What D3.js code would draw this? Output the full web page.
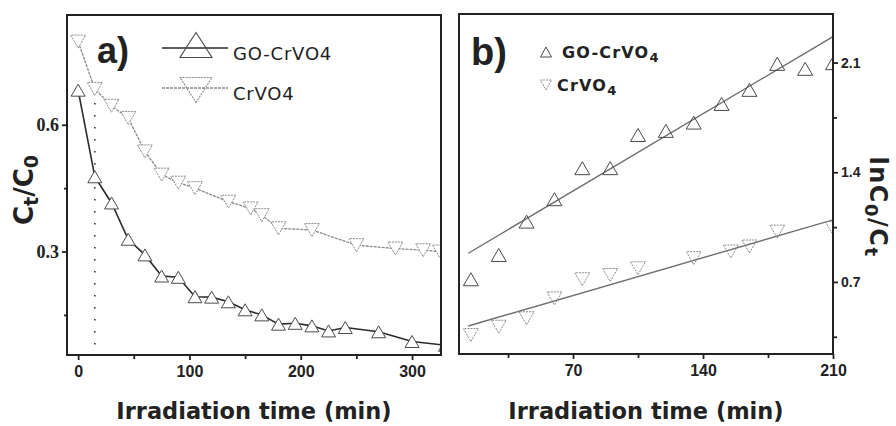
<!DOCTYPE html>
<html>
<head>
<meta charset="utf-8">
<script src="https://cdn.jsdelivr.net/npm/d3@7"></script>
<style>
  body { margin: 0; background: #fff; }
  text { fill: #222; }
</style>
</head>
<body>
<div id="chart"></div>
<script>
// panel a) : Ct/C0 vs time
const timeGO_a = [0, 15, 30, 45, 60, 75, 90, 105, 120, 135, 150, 165, 180, 195, 210, 225, 240, 270, 300, 330];
const ratioGO_a = [0.682, 0.477, 0.415, 0.329, 0.292, 0.242, 0.239, 0.193, 0.192, 0.181, 0.162, 0.150, 0.128, 0.130, 0.124, 0.112, 0.120, 0.110, 0.087, 0.078];
const timeCr_a = [0, 15, 30, 45, 60, 75, 90, 105, 135, 155, 165, 180, 210, 250, 285, 310, 325];
const ratioCr_a = [0.797, 0.685, 0.645, 0.616, 0.537, 0.482, 0.463, 0.450, 0.418, 0.402, 0.386, 0.355, 0.351, 0.315, 0.307, 0.303, 0.300];
const dropLine_a = { t: 15, from: 0.68, to: 0.08 };

// panel b) : ln(C0/Ct) vs time
const timeGO_b = [15, 30, 45, 60, 75, 90, 105, 120, 135, 150, 165, 180, 195, 210];
const lnGO_b = [0.717, 0.872, 1.085, 1.228, 1.426, 1.426, 1.638, 1.664, 1.717, 1.836, 1.926, 2.092, 2.060, 2.096];
const timeCr_b = [15, 30, 45, 60, 75, 90, 105, 135, 155, 165, 180, 210];
const lnCr_b = [0.361, 0.414, 0.468, 0.595, 0.717, 0.744, 0.787, 0.852, 0.894, 0.926, 1.021, 1.043];
const fitGO_b = [[13.6, 0.883], [210, 2.266]];
const fitCr_b = [[13.6, 0.419], [210, 1.096]];

const ticksX_a = [0, 100, 200, 300], minorX_a = [50, 150, 250];
const ticksY_a = [0.3, 0.6], minorY_a = [0.15, 0.45];
const ticksX_b = [70, 140, 210], minorX_b = [35, 105, 175];
const ticksY_b = [0.7, 1.4, 2.1], minorY_b = [0.35, 1.05, 1.75];

const width = 896, height = 426;
const svg = d3.select("#chart").append("svg")
    .attr("width", width)
    .attr("height", height)
    .style("font-family", "'DejaVu Sans', sans-serif");

const pa = { l: 67, r: 441, t: 15, b: 355 };
const pb = { l: 459, r: 833, t: 14, b: 354 };

const xa = d3.scaleLinear().domain([-10, 326]).range([pa.l, pa.r]);
const ya = d3.scaleLinear().domain([0.055, 0.86]).range([pa.b, pa.t]);
const xb = d3.scaleLinear().domain([8.6, 210]).range([pb.l, pb.r]);
const yb = d3.scaleLinear().domain([0.24, 2.41]).range([pb.b, pb.t]);

function tri(w, h, up) {
    const s = up ? 1 : -1;
    return `M0,${-s * h / 2}L${w / 2},${s * h / 2}L${-w / 2},${s * h / 2}Z`;
}

const defs = svg.append("defs");
defs.append("clipPath").attr("id", "clipA").append("rect")
    .attr("x", pa.l).attr("y", pa.t).attr("width", pa.r - pa.l).attr("height", pa.b - pa.t);
defs.append("clipPath").attr("id", "clipB").append("rect")
    .attr("x", pb.l).attr("y", pb.t).attr("width", pb.r - pb.l).attr("height", pb.b - pb.t);

// ---------- panel a ----------
const gA = svg.append("g").attr("clip-path", "url(#clipA)");

gA.append("line")
    .attr("x1", xa(dropLine_a.t)).attr("x2", xa(dropLine_a.t))
    .attr("y1", ya(dropLine_a.from)).attr("y2", ya(dropLine_a.to))
    .attr("stroke", "#333").attr("stroke-width", 1.6)
    .attr("stroke-dasharray", "1.5,10.5");

const lineA = (xs, ys) => d3.line().x((d, i) => xa(xs[i])).y((d, i) => ya(ys[i]))(xs);

gA.append("path").attr("d", lineA(timeCr_a, ratioCr_a))
    .attr("fill", "none").attr("stroke", "#8a8a8a").attr("stroke-width", 1.3)
    .attr("stroke-dasharray", "3,1");
gA.append("path").attr("d", lineA(timeGO_a, ratioGO_a))
    .attr("fill", "none").attr("stroke", "#2a2a2a").attr("stroke-width", 1.6);

gA.selectAll(".mCrA").data(timeCr_a).enter().append("path")
    .attr("transform", (d, i) => `translate(${xa(d)},${ya(ratioCr_a[i])})`)
    .attr("d", tri(15, 13, false))
    .attr("fill", "#fff").attr("stroke", "#8a8a8a").attr("stroke-width", 1)
    .attr("stroke-dasharray", "2,1");
gA.selectAll(".mGOA").data(timeGO_a).enter().append("path")
    .attr("transform", (d, i) => `translate(${xa(d)},${ya(ratioGO_a[i])})`)
    .attr("d", tri(14, 12, true))
    .attr("fill", "#fff").attr("stroke", "#4a4a4a").attr("stroke-width", 1);

// frame a
svg.append("rect").attr("x", pa.l).attr("y", pa.t)
    .attr("width", pa.r - pa.l).attr("height", pa.b - pa.t)
    .attr("fill", "none").attr("stroke", "#222").attr("stroke-width", 2);

// axes a
const axXa = svg.append("g").attr("transform", `translate(0,${pa.b})`)
    .call(d3.axisBottom(xa).tickValues(ticksX_a).tickSize(5).tickPadding(6).tickFormat(d3.format("d")));
svg.append("g").attr("transform", `translate(0,${pa.b})`)
    .call(d3.axisBottom(xa).tickValues(minorX_a).tickSize(4).tickFormat(""));
const axYa = svg.append("g").attr("transform", `translate(${pa.l},0)`)
    .call(d3.axisLeft(ya).tickValues(ticksY_a).tickSize(5).tickPadding(3).tickFormat(d3.format(".1f")));
svg.append("g").attr("transform", `translate(${pa.l},0)`)
    .call(d3.axisLeft(ya).tickValues(minorY_a).tickSize(3).tickFormat(""));

// ---------- panel b ----------
const gB = svg.append("g").attr("clip-path", "url(#clipB)");
const lineB = d3.line().x(d => xb(d[0])).y(d => yb(d[1]));
[fitGO_b, fitCr_b].forEach(f => {
    gB.append("path").attr("d", lineB(f))
        .attr("fill", "none").attr("stroke", "#6e6e6e").attr("stroke-width", 1.4);
});
gB.selectAll(".mGOB").data(timeGO_b).enter().append("path")
    .attr("transform", (d, i) => `translate(${xb(d)},${yb(lnGO_b[i])})`)
    .attr("d", tri(15, 13, true))
    .attr("fill", "none").attr("stroke", "#4a4a4a").attr("stroke-width", 1);
gB.selectAll(".mCrB").data(timeCr_b).enter().append("path")
    .attr("transform", (d, i) => `translate(${xb(d)},${yb(lnCr_b[i])})`)
    .attr("d", tri(15, 13, false))
    .attr("fill", "none").attr("stroke", "#8a8a8a").attr("stroke-width", 1)
    .attr("stroke-dasharray", "2,1");

svg.append("rect").attr("x", pb.l).attr("y", pb.t)
    .attr("width", pb.r - pb.l).attr("height", pb.b - pb.t)
    .attr("fill", "none").attr("stroke", "#222").attr("stroke-width", 2);

const axXb = svg.append("g").attr("transform", `translate(0,${pb.b})`)
    .call(d3.axisBottom(xb).tickValues(ticksX_b).tickSize(5).tickPadding(6).tickFormat(d3.format("d")));
svg.append("g").attr("transform", `translate(0,${pb.b})`)
    .call(d3.axisBottom(xb).tickValues(minorX_b).tickSize(4).tickFormat(""));
const axYb = svg.append("g").attr("transform", `translate(${pb.r},0)`)
    .call(d3.axisRight(yb).tickValues(ticksY_b).tickSize(5).tickPadding(3).tickFormat(d3.format(".1f")));
svg.append("g").attr("transform", `translate(${pb.r},0)`)
    .call(d3.axisRight(yb).tickValues(minorY_b).tickSize(4).tickFormat(""));

// axis styling
svg.selectAll(".domain").remove();
svg.selectAll(".tick line").attr("stroke", "#222").attr("stroke-width", 1.8);
axXa.selectAll("text").attr("font-size", 16).attr("font-weight", "bold").attr("fill", "#222");
axXb.selectAll("text").attr("font-size", 16).attr("font-weight", "bold").attr("fill", "#222");
axYa.selectAll("text").attr("font-size", 15).attr("font-weight", "bold").attr("fill", "#222")
    .attr("font-family", "'Liberation Serif', serif").attr("font-size", 18);
axYb.selectAll("text").attr("font-size", 14).attr("fill", "#222")
    .attr("font-family", "'Liberation Sans', Arial, sans-serif").attr("font-weight", "bold");

// titles
[(pa.l + pa.r) / 2, (pb.l + pb.r) / 2].forEach(cx => {
    svg.append("text").attr("x", cx).attr("y", 419)
        .attr("text-anchor", "middle").attr("font-size", 22.5).attr("font-weight", "bold")
        .text("Irradiation time (min)");
});

const yTa = svg.append("text")
    .attr("transform", "translate(33,190) rotate(-90)")
    .attr("text-anchor", "middle").attr("font-size", 26).attr("font-weight", "bold");
yTa.append("tspan").text("C");
yTa.append("tspan").attr("dy", 5).attr("font-size", 19).text("t");
yTa.append("tspan").attr("dy", -5).text("/C");
yTa.append("tspan").attr("dy", 5).attr("font-size", 19).text("0");

const yTb = svg.append("text")
    .attr("transform", "translate(870,207) rotate(90)")
    .attr("text-anchor", "middle").attr("font-size", 24).attr("font-weight", "bold")
    .attr("letter-spacing", 1.5);
yTb.append("tspan").text("lnC");
yTb.append("tspan").attr("dy", 5).attr("font-size", 18).text("0");
yTb.append("tspan").attr("dy", -5).text("/C");
yTb.append("tspan").attr("dy", 5).attr("font-size", 18).text("t");

// panel letters
svg.append("text").attr("x", 97).attr("y", 63)
    .attr("font-family", "'Liberation Sans', Arial, sans-serif")
    .attr("font-size", 36).attr("font-weight", "bold").text("a)");
svg.append("text").attr("x", 471).attr("y", 65)
    .attr("font-family", "'Liberation Sans', Arial, sans-serif")
    .attr("font-size", 38).attr("font-weight", "bold").text("b)");

// legend a
const legA = [
    { name: "GO-CrVO4", y: 48, up: true, col: "#2a2a2a", mcol: "#4a4a4a", dash: null },
    { name: "CrVO4", y: 88, up: false, col: "#8a8a8a", mcol: "#8a8a8a", dash: "2,1" }
];
legA.forEach(d => {
    svg.append("line").attr("x1", 162).attr("x2", 228).attr("y1", d.y).attr("y2", d.y)
        .attr("stroke", d.col).attr("stroke-width", d.up ? 1.6 : 1.3)
        .attr("stroke-dasharray", d.up ? null : "3,1");
    svg.append("path").attr("transform", `translate(196,${d.y - (d.up ? 3 : -2)})`)
        .attr("d", tri(32, 25, d.up))
        .attr("fill", "none").attr("stroke", d.mcol).attr("stroke-width", 1.1)
        .attr("stroke-dasharray", d.dash);
    svg.append("text").attr("x", 233).attr("y", d.y + 12)
        .attr("font-size", 18).attr("letter-spacing", 0.8).attr("fill", "#333")
        .text(d.name);
});

// legend b
const legB = [
    { base: "GO-CrVO", y: 52, up: true, mcol: "#4a4a4a", dash: null },
    { base: "CrVO", y: 85, up: false, mcol: "#8a8a8a", dash: "2,1" }
];
legB.forEach((d, i) => {
    svg.append("path").attr("transform", `translate(546,${d.y})`)
        .attr("d", tri(11, 10, d.up))
        .attr("fill", "none").attr("stroke", d.mcol).attr("stroke-width", 1)
        .attr("stroke-dasharray", d.dash);
    const t = svg.append("text").attr("x", i === 0 ? 562 : 557).attr("y", d.y + 6)
        .attr("font-size", 16).attr("font-weight", "bold").attr("letter-spacing", 1.2);
    t.append("tspan").text(d.base);
    t.append("tspan").attr("dy", 4).attr("font-size", 13).text("4");
});
</script>
</body>
</html>
